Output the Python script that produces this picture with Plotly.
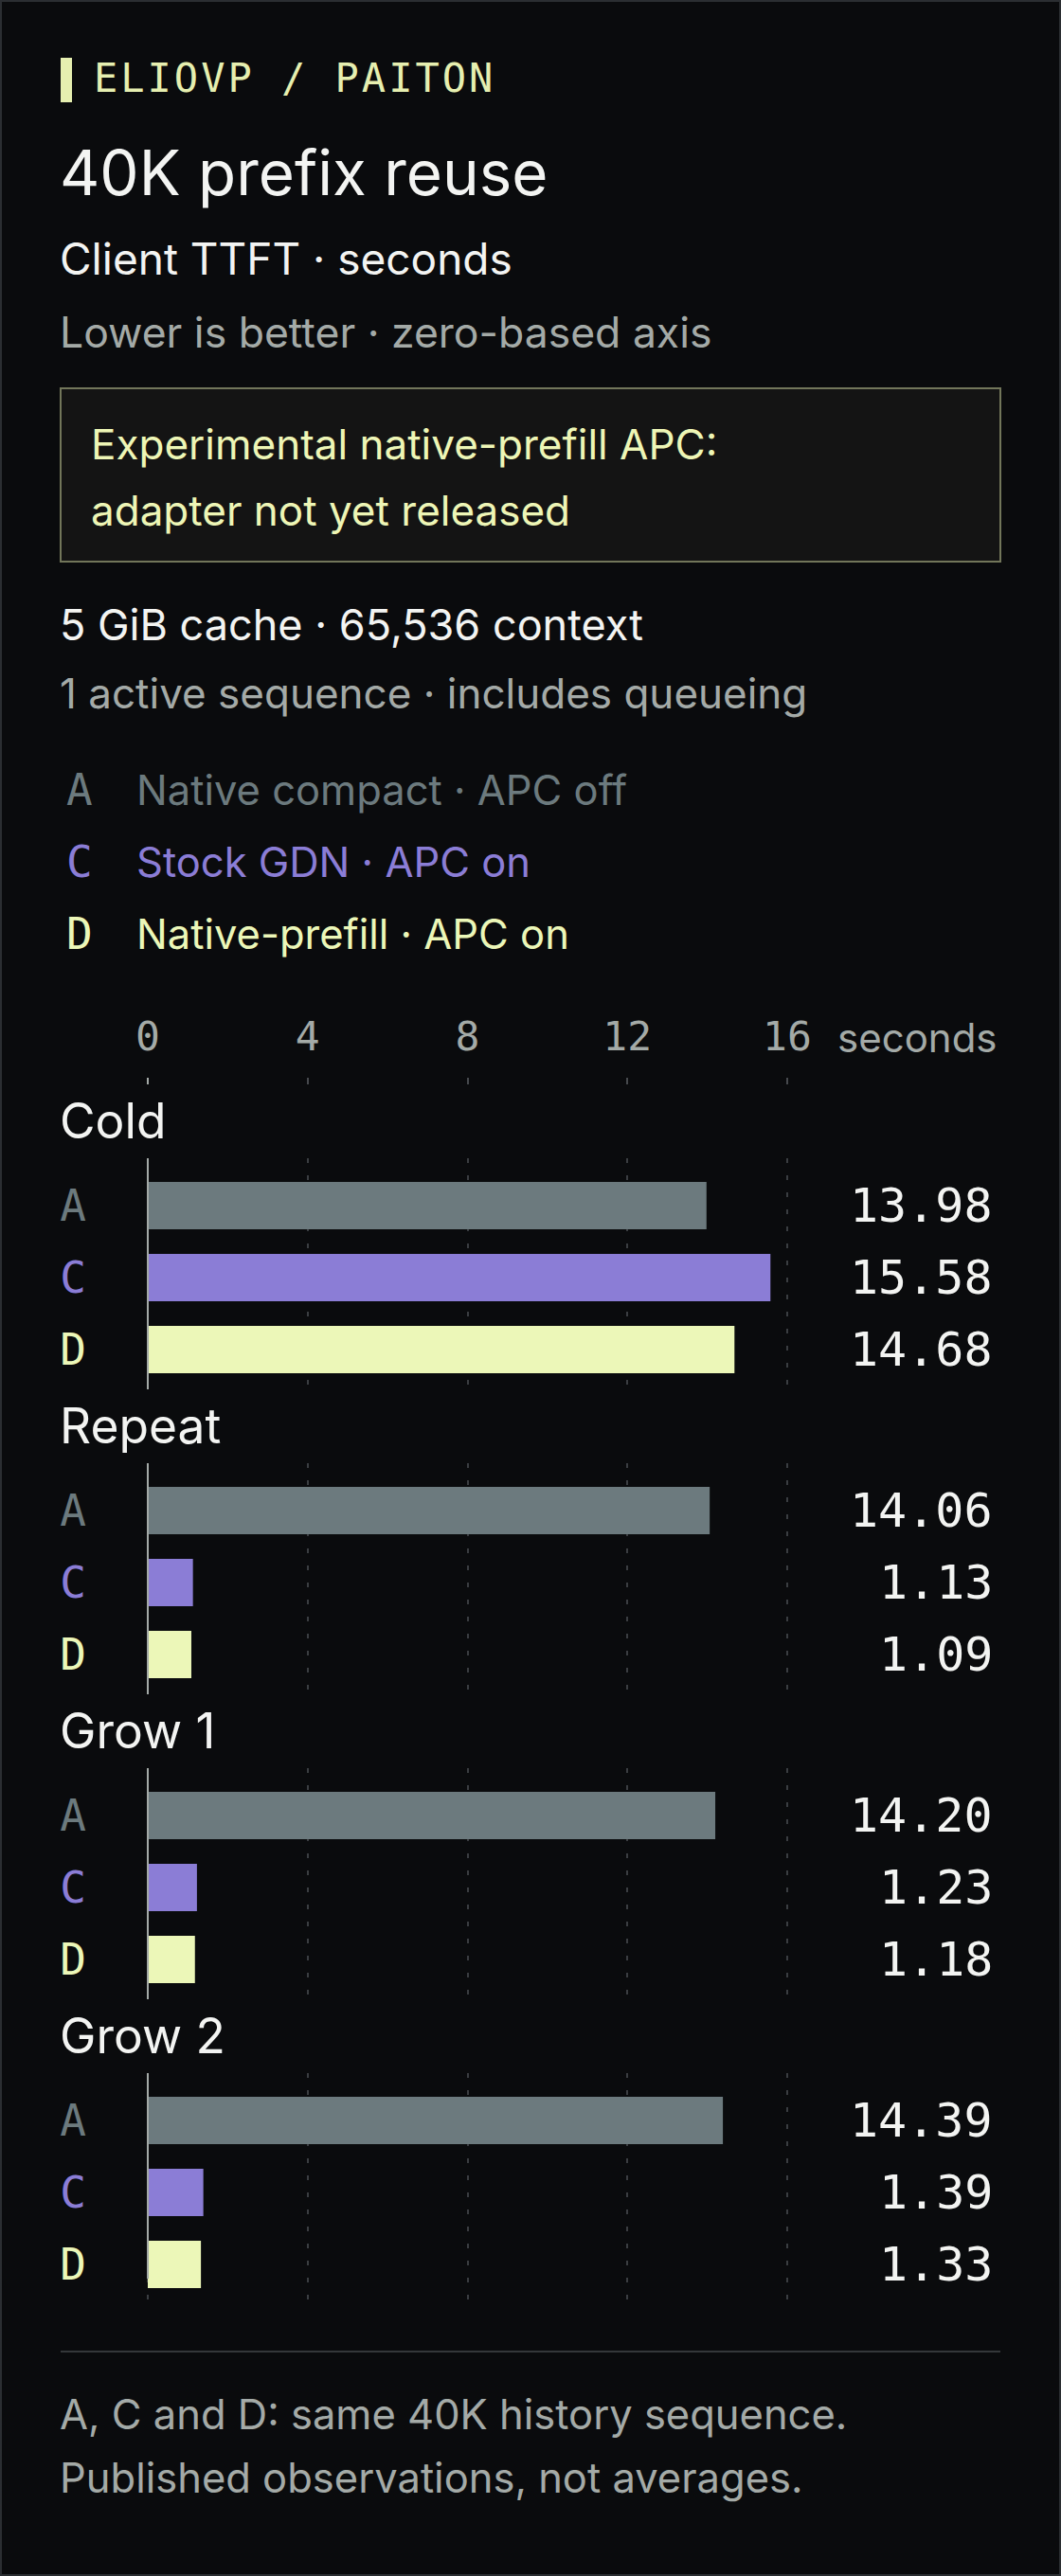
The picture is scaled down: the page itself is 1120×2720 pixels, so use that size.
import plotly.graph_objects as go

# data
stages = ["Cold", "Repeat", "Grow 1", "Grow 2"]
series_keys = ["A", "C", "D"]
series_names = ["Native compact · APC off", "Stock GDN · APC on", "Native-prefill · APC on"]
series_colors = ["#6c7a7e", "#8b7dd6", "#ecf7b8"]
ttft_a = [13.98, 14.06, 14.20, 14.39]
ttft_c = [15.58, 1.13, 1.23, 1.39]
ttft_d = [14.68, 1.09, 1.18, 1.33]
axis_ticks = [0, 4, 8, 12, 16]

W, H = 1120, 2720
BG = "#0a0b0d"
WHITE = "#f3f4f2"
GREY = "#a4aaa7"
PALE = "#eef6b6"
SANS = "Inter"
MONO = "DejaVu Sans Mono"
LEFT = 61  # text column (annotation box adds a couple of px of padding)


def fx(px):
    return px / W


def fy(py):
    return 1 - py / H


# horizontal scale: 0 s sits at x=156px, 16 s at x=831px
X0_PX, PX_PER_S = 156, 675 / 16
X_RANGE = [-0.05, 16.1]
x_domain = [fx(X0_PX + X_RANGE[0] * PX_PER_S), fx(X0_PX + X_RANGE[1] * PX_PER_S)]

# vertical layout of the four small bar groups
GROUP_TOP, GROUP_STEP, GROUP_H = 1223, 322, 244
ROW_STEP, BAR_H, FIRST_ROW = 76, 50, 50
y_top = -FIRST_ROW / ROW_STEP
y_range = [y_top + GROUP_H / ROW_STEP, y_top]

by_series = [ttft_a, ttft_c, ttft_d]
tick_text = [f'<span style="color:{c}">{k}</span>' for k, c in zip(series_keys, series_colors)]

fig = go.Figure()
annotations = []
shapes = []
axes = {}


def note(x, y, text, size, color, family=SANS, anchor="left"):
    annotations.append(dict(x=fx(x), y=fy(y), xref="paper", yref="paper", xanchor=anchor,
                            yanchor="middle", text=text, showarrow=False,
                            font=dict(family=family, size=size, color=color)))


for i, stage in enumerate(stages):
    n = i + 1
    xa = "x" if n == 1 else f"x{n}"
    ya = "y" if n == 1 else f"y{n}"
    vals = [s[i] for s in by_series]
    fig.add_trace(go.Bar(
        x=vals, y=series_keys, orientation="h",
        marker=dict(color=series_colors, line_width=0),
        width=BAR_H / ROW_STEP, xaxis=xa, yaxis=ya, hoverinfo="skip",
    ))
    top = GROUP_TOP + i * GROUP_STEP
    axes["xaxis" if n == 1 else f"xaxis{n}"] = dict(
        domain=x_domain, range=X_RANGE, anchor=ya, tickvals=axis_ticks,
        showticklabels=False, ticks="", showgrid=True, gridcolor="#3a3d41",
        gridwidth=2, griddash="5px,13px", zeroline=False, showline=False,
        automargin=False, fixedrange=True,
    )
    axes["yaxis" if n == 1 else f"yaxis{n}"] = dict(
        domain=[fy(top + GROUP_H), fy(top)], range=y_range, anchor=xa, type="category",
        categoryorder="array", categoryarray=series_keys,
        tickvals=series_keys, ticktext=tick_text, ticks="", ticklabelstandoff=62,
        tickfont=dict(family=MONO, size=46, color=WHITE),
        showgrid=False, zeroline=False, showline=False, automargin=False, fixedrange=True,
    )
    # zero line of each group (last one is cut short in the original)
    bottom = top + GROUP_H if i < len(stages) - 1 else top + 217
    shapes.append(dict(type="line", xref=xa, x0=0, x1=0, yref="paper",
                       y0=fy(top), y1=fy(bottom), line=dict(color=GREY, width=2), layer="above"))
    note(LEFT, top - 40, stage, 51.5, WHITE)
    for k, v in zip(series_keys, vals):
        annotations.append(dict(x=fx(1050), xref="paper", xanchor="right", y=k, yref=ya,
                                yanchor="middle", text=f"{v:.2f}", showarrow=False,
                                font=dict(family=MONO, size=50, color=WHITE)))

# shared scale shown once above the groups (empty trace so the subplot gets drawn)
fig.add_trace(go.Scatter(x=[], y=[], xaxis="x5", yaxis="y5", hoverinfo="skip"))
axes["xaxis5"] = dict(
    domain=x_domain, range=X_RANGE, anchor="y5", side="top", tickvals=axis_ticks,
    tickfont=dict(family=MONO, size=43, color=GREY), ticks="", ticklabelstandoff=19,
    showgrid=True, gridcolor="#46494d", gridwidth=2,
    zeroline=True, zerolinecolor=GREY, zerolinewidth=2, showline=False,
    automargin=False, fixedrange=True,
)
axes["yaxis5"] = dict(domain=[fy(1145), fy(1138)], range=[0, 1], anchor="x5",
                      visible=False, automargin=False, fixedrange=True)
note(882, 1095, "seconds", 42, GREY)

# header
shapes.append(dict(type="rect", xref="paper", yref="paper", x0=fx(64), x1=fx(76),
                   y0=fy(108), y1=fy(61), fillcolor="#e6efb0", line_width=0))
note(97, 82.5, '<span style="letter-spacing:3px">ELIOVP / PAITON</span>', 42, "#e6efb0", MONO)
note(LEFT, 182.5, "40K prefix reuse", 65.5, WHITE)
note(LEFT, 273, "Client TTFT · seconds", 46, WHITE)
note(LEFT, 350.5, "Lower is better · zero-based axis", 44.5, GREY)

shapes.append(dict(type="rect", xref="paper", yref="paper", x0=fx(64), x1=fx(1056),
                   y0=fy(593), y1=fy(410), fillcolor="#141414",
                   line=dict(color="#72765a", width=2), layer="below"))
note(94, 469, "Experimental native-prefill APC:", 44, PALE)
note(94, 539, "adapter not yet released", 44, PALE)

note(LEFT, 659, "5 GiB cache · 65,536 context", 45, WHITE)
note(LEFT, 732, "1 active sequence · includes queueing", 44, GREY)

# legend
for j, (k, name, c) in enumerate(zip(series_keys, series_names, series_colors)):
    yc = 834 + j * ROW_STEP
    note(68, yc, k, 46, c, MONO)
    note(142, yc, name, 43.5, c)

# footer
shapes.append(dict(type="line", xref="paper", yref="paper", x0=fx(64), x1=fx(1056),
                   y0=fy(2483), y1=fy(2483), line=dict(color="#34373a", width=2)))
note(LEFT, 2549, "A, C and D: same 40K history sequence.", 43.5, GREY)
note(LEFT, 2615.5, "Published observations, not averages.", 43.5, GREY)

# card border
shapes.append(dict(type="rect", xref="paper", yref="paper", x0=fx(1), x1=fx(W - 1),
                   y0=fy(H - 1), y1=fy(1), line=dict(color="#2b2e32", width=2), layer="below"))

fig.update_layout(
    width=W, height=H, margin=dict(l=0, r=0, t=0, b=0, pad=0, autoexpand=False),
    paper_bgcolor=BG, plot_bgcolor="rgba(0,0,0,0)", showlegend=False,
    annotations=annotations, shapes=shapes, **axes,
)

page_css = (
    "document.documentElement.style.margin='0';"
    "document.documentElement.style.overflow='hidden';"
    "document.body.style.margin='0';"
    "document.body.style.overflow='hidden';"
    "document.body.style.background='%s';" % BG
)
fig.write_html("out.html", config={"displayModeBar": False}, post_script=page_css)
